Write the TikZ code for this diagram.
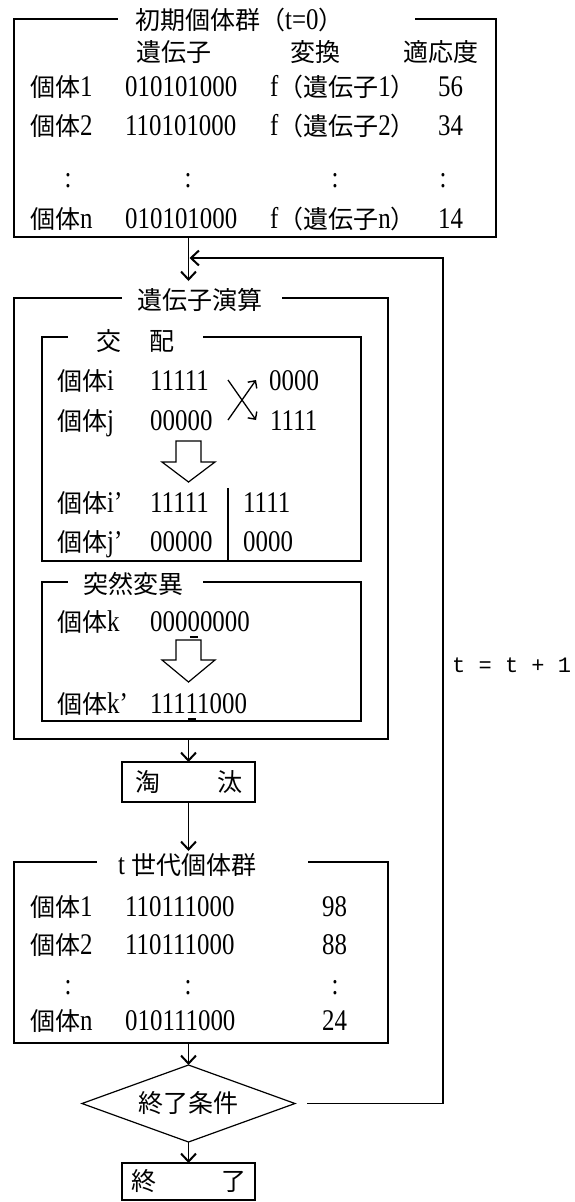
\documentclass[tikz,border=0pt]{standalone}
\usepackage{fontspec}
\setmainfont{Liberation Serif}[FakeStretch=0.83]
\newfontfamily\cjk{Noto Sans CJK JP}
\newfontfamily\monof{Liberation Mono}
\usetikzlibrary{arrows.meta,shapes.geometric}
\newcommand\J[1]{{\cjk\fontsize{25}{28}\selectfont #1}}
\newcommand\fs{\fontsize{30}{32}\selectfont}
\newcommand\ulx[1]{\makebox[0pt][l]{\hspace{2.4pt}\rule[-6pt]{8pt}{1.3pt}}#1}
\begin{document}
\begin{tikzpicture}[x=1pt,y=-1pt,
  frame/.style={draw,line width=1.2pt,inner sep=0pt,outer sep=0pt},
  tx/.style={inner sep=0pt,anchor=west,font=\fs,text height=22pt,text depth=3pt},
  tc/.style={tx,anchor=center},
  conn/.style={line width=1.7pt,-{Straight Barb[length=8pt,width=15pt,line width=2pt]}},
  xarr/.style={line width=1.3pt,-{Straight Barb[length=5.5pt,width=11pt,line width=1.4pt]}},
  hollow/.style={draw,line width=1.2pt,fill=white,line join=miter}]
\useasboundingbox (0,0) rectangle (574,1202);
\fill[white] (0,0) rectangle (574,1202);

% ---------- frames ----------
\node[frame,minimum width=482pt,minimum height=218pt] (init) at (255,128) {};
\node[frame,minimum width=374pt,minimum height=441pt] (gen) at (201,518.5) {};
\node[frame,minimum width=319pt,minimum height=224pt] (cross) at (201.5,449) {};
\node[frame,minimum width=319pt,minimum height=139pt] (mut) at (201.5,651.5) {};
\node[frame,minimum width=133pt,minimum height=40pt] (sel) at (188.5,782) {\J{淘\hspace{57pt}汰}};
\node[frame,minimum width=374pt,minimum height=181pt] (gent) at (201,952.5) {};
\node[frame,diamond,aspect=2.77,minimum width=213pt,minimum height=77pt] (cond) at (188.5,1103.5) {\J{終了条件}};
\node[frame,minimum width=133pt,minimum height=37pt] (end) at (188.5,1181.5) {\J{終\hspace{65pt}了}};

% gaps for titles
\fill[white] (118,16.5) rectangle (415,21.5);
\fill[white] (122,295.5) rectangle (282,300.5);
\fill[white] (68,334.5) rectangle (203,339.5);
\fill[white] (68,579.5) rectangle (203,584.5);
\fill[white] (97,859.5) rectangle (308,864.5);

% ---------- initial population ----------
\node[tx] (it) at (135,20) {\J{初期個体群（}t=0\J{）}};
\node[tc] (h1) at (174,52) {\J{遺伝子}};
\node[tc] (h2) at (315,52) {\J{変換}};
\node[tc] (h3) at (441,52) {\J{適応度}};
\node[tx] (a1) at (30,87) {\J{個体}1};
\node[tx] (b1) at (125,87) {010101000};
\node[tx] (c1) at (270,87) {f\J{（遺伝子}1\J{）}};
\node[tx] (d1) at (438,87) {56};
\node[tx] (a2) at (30,126) {\J{個体}2};
\node[tx] (b2) at (125,126) {110101000};
\node[tx] (c2) at (270,126) {f\J{（遺伝子}2\J{）}};
\node[tx] (d2) at (438,126) {34};
\node[tc] (e1) at (68,178) {:};
\node[tc] (e2) at (188,178) {:};
\node[tc] (e3) at (335,178) {:};
\node[tc] (e4) at (443,178) {:};
\node[tx] (an) at (30,219) {\J{個体}n};
\node[tx] (bn) at (125,219) {010101000};
\node[tx] (cn) at (270,219) {f\J{（遺伝子}n\J{）}};
\node[tx] (dn) at (438,219) {14};

% ---------- genetic operations ----------
\node[tx] (gtit) at (137,300) {\J{遺伝子演算}};
\node[tx] (ctit) at (96,341) {\J{交\hspace{28pt}配}};
\node[tx] (pi) at (57,381) {\J{個体}i};
\node[tx] (bi) at (150,381) {11111};
\node[tx] (ri) at (269,381) {0000};
\node[tx] (pj) at (57,421) {\J{個体}j};
\node[tx] (bj) at (150,421) {00000};
\node[tx] (rj) at (270,421) {1111};
\coordinate (xa) at (228,380);
\coordinate (xb) at (256,420);
\coordinate (xc) at (228,420);
\coordinate (xd) at (256,380);
\draw[xarr] (xa) -- (xb);
\draw[xarr] (xc) -- (xd);
\draw[hollow] (176,441) -- (201,441) -- (201,462) -- (215,462) -- (188.5,482) -- (162,462) -- (176,462) -- cycle;
\node[tx] (pi2) at (57,503) {\J{個体}i’};
\node[tx] (bi2) at (150,503) {11111};
\node[tx] (ri2) at (243,503) {1111};
\node[tx] (pj2) at (57,542) {\J{個体}j’};
\node[tx] (bj2) at (150,542) {00000};
\node[tx] (rj2) at (243,542) {0000};
\coordinate (sep) at (228,488);
\draw[line width=1.1pt] (sep) -- (sep |- cross.south);

\node[tx] (mtit) at (83,584) {\J{突然変異}};
\node[tx] (pk) at (57,622) {\J{個体}k};
\node[tx] (bk) at (150,622) {000\ulx{0}0000};
\draw[hollow] (176,640) -- (201,640) -- (201,660) -- (215,660) -- (188.5,682) -- (162,660) -- (176,660) -- cycle;
\node[tx] (pk2) at (57,704) {\J{個体}k’};
\node[tx] (bk2) at (150,704) {111\ulx{1}1000};

% ---------- generation t ----------
\node[tx] (ttit) at (118,865) {t \J{世代個体群}};
\node[tx] (q1) at (30,907) {\J{個体}1};
\node[tx] (r1) at (125,907) {110111000};
\node[tx] (s1) at (322,907) {98};
\node[tx] (q2) at (30,945) {\J{個体}2};
\node[tx] (r2) at (125,945) {110111000};
\node[tx] (s2) at (322,945) {88};
\node[tc] (f1) at (68,985) {:};
\node[tc] (f2) at (188,985) {:};
\node[tc] (f3) at (335,985) {:};
\node[tx] (qn) at (30,1021) {\J{個体}n};
\node[tx] (rn) at (125,1021) {010111000};
\node[tx] (sn) at (322,1021) {24};

\node[inner sep=0pt,anchor=west,font=\monof\fontsize{22}{24}\selectfont] (tl) at (452,665) {t = t + 1};

% ---------- connectors ----------
\coordinate (genin) at (188.5,281);
\coordinate (gtin) at (188.5,851);
\coordinate (merge) at (189.5,258);
\coordinate (loopT) at (443,258);
\coordinate (loopB) at (443,1103.5);
\draw[conn] (cond |- init.south) -- (genin);
\draw[conn] (cond |- gen.south) -- (sel.north);
\draw[conn] (sel.south) -- (gtin);
\draw[conn] (cond |- gent.south) -- (cond.north);
\draw[conn] (cond.south) -- (end.north);
\draw[conn,shorten <=12pt] (cond.east) -- (loopB) -- (loopT) -- (merge);
\end{tikzpicture}
\end{document}
